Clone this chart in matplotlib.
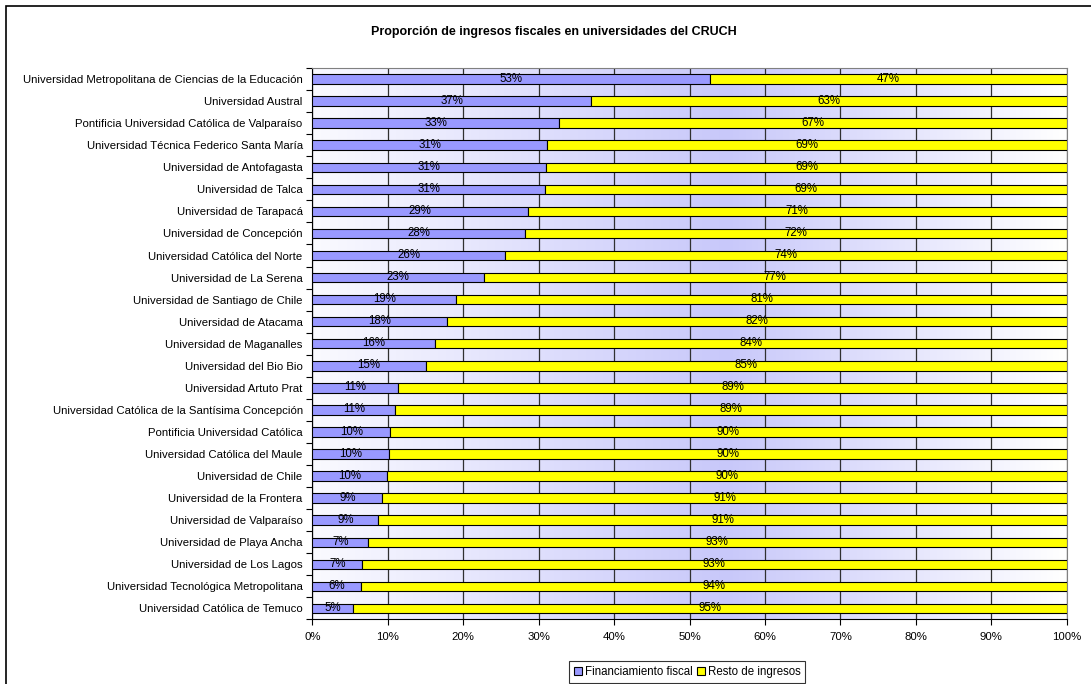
import numpy as np
import matplotlib.pyplot as plt
from matplotlib.colors import LinearSegmentedColormap
from matplotlib.patches import Rectangle

plt.rcParams['font.family'] = ['Liberation Sans', 'DejaVu Sans']

# datos (de arriba hacia abajo)
universidades = [
    'Universidad Metropolitana de Ciencias de la Educación',
    'Universidad Austral',
    'Pontificia Universidad Católica de Valparaíso',
    'Universidad Técnica Federico Santa María',
    'Universidad de Antofagasta',
    'Universidad de Talca',
    'Universidad de Tarapacá',
    'Universidad de Concepción',
    'Universidad Católica del Norte',
    'Universidad de La Serena',
    'Universidad de Santiago de Chile',
    'Universidad de Atacama',
    'Universidad de Maganalles',
    'Universidad del Bio Bio',
    'Universidad Artuto Prat',
    'Universidad Católica de la Santísima Concepción',
    'Pontificia Universidad Católica',
    'Universidad Católica del Maule',
    'Universidad de Chile',
    'Universidad de la Frontera',
    'Universidad de Valparaíso',
    'Universidad de Playa Ancha',
    'Universidad de Los Lagos',
    'Universidad Tecnológica Metropolitana',
    'Universidad Católica de Temuco',
]
fiscal = [0.527, 0.370, 0.327, 0.311, 0.310, 0.308, 0.2855, 0.282, 0.256, 0.227,
          0.191, 0.1785, 0.162, 0.150, 0.114, 0.110, 0.103, 0.101, 0.0986, 0.0928,
          0.0875, 0.074, 0.066, 0.064, 0.054]
resto = [1 - f for f in fiscal]

fig = plt.figure(figsize=(10.91, 6.84), dpi=100)
ax = fig.add_axes([0.2863, 0.0943, 0.6914, 0.8063])

# fondo degradado del area de trazado
cmap = LinearSegmentedColormap.from_list('fondo', [(0.0, '#fafaff'), (0.55, '#c8c8fa'), (1.0, '#ffffff')])
grad = np.linspace(0, 1, 256).reshape(1, -1)
ax.imshow(grad, cmap=cmap, aspect='auto', extent=[0, 1, len(fiscal) - 0.5, -0.5], zorder=0)

y = np.arange(len(universidades))
ax.barh(y, fiscal, height=0.43, color='#9999ff', edgecolor='black', linewidth=0.8,
        label='Financiamiento fiscal', zorder=3)
ax.barh(y, resto, left=fiscal, height=0.43, color='#ffff00', edgecolor='black', linewidth=0.8,
        label='Resto de ingresos', zorder=3)

for i in range(len(y)):
    ax.text(fiscal[i] / 2, y[i] - 0.02, '%d%%' % round(fiscal[i] * 100),
            ha='center', va='center', fontsize=8.3, zorder=4)
    ax.text(fiscal[i] + resto[i] / 2, y[i] - 0.02, '%d%%' % round(resto[i] * 100),
            ha='center', va='center', fontsize=8.3, zorder=4)

ax.set_xlim(0, 1)
ax.set_ylim(len(fiscal) - 0.5, -0.5)
ax.set_xticks(np.arange(0, 1.01, 0.1))
ax.set_xticklabels(['%d%%' % v for v in range(0, 101, 10)], fontsize=8.2)
ax.set_yticks(y)
ax.set_yticklabels(universidades, fontsize=8.2)
ax.set_yticks(np.arange(-0.5, len(fiscal), 1), minor=True)
ax.tick_params(axis='y', which='major', length=0, pad=7)
ax.tick_params(axis='y', which='minor', length=4, direction='out', width=0.8)
ax.tick_params(axis='x', length=4, direction='out', width=0.8, pad=5)
ax.grid(axis='x', color='#303030', linewidth=0.9, zorder=1)
ax.set_axisbelow(True)
for s in ['top', 'right']:
    ax.spines[s].set_color('#808080')
for s in ['left', 'bottom']:
    ax.spines[s].set_color('black')

fig.text(0.508, 0.953, 'Proporción de ingresos fiscales en universidades del CRUCH',
         ha='center', va='center', fontsize=9, fontweight='bold')

leg = fig.legend(loc='center', bbox_to_anchor=(0.630, 0.0175), ncol=2, fontsize=8.3,
                 frameon=True, fancybox=False, edgecolor='black', handlelength=0.7,
                 handleheight=0.7, handletextpad=0.3, columnspacing=0.3, borderpad=0.4)
leg.get_frame().set_linewidth(0.8)

# marco del grafico
fig.patches.append(Rectangle((6 / 1091, -0.2), 1.2, 1.2 - 6 / 684,
                             transform=fig.transFigure, fill=False, edgecolor='black',
                             linewidth=1.2))

fig.savefig('out.png', dpi=100)
